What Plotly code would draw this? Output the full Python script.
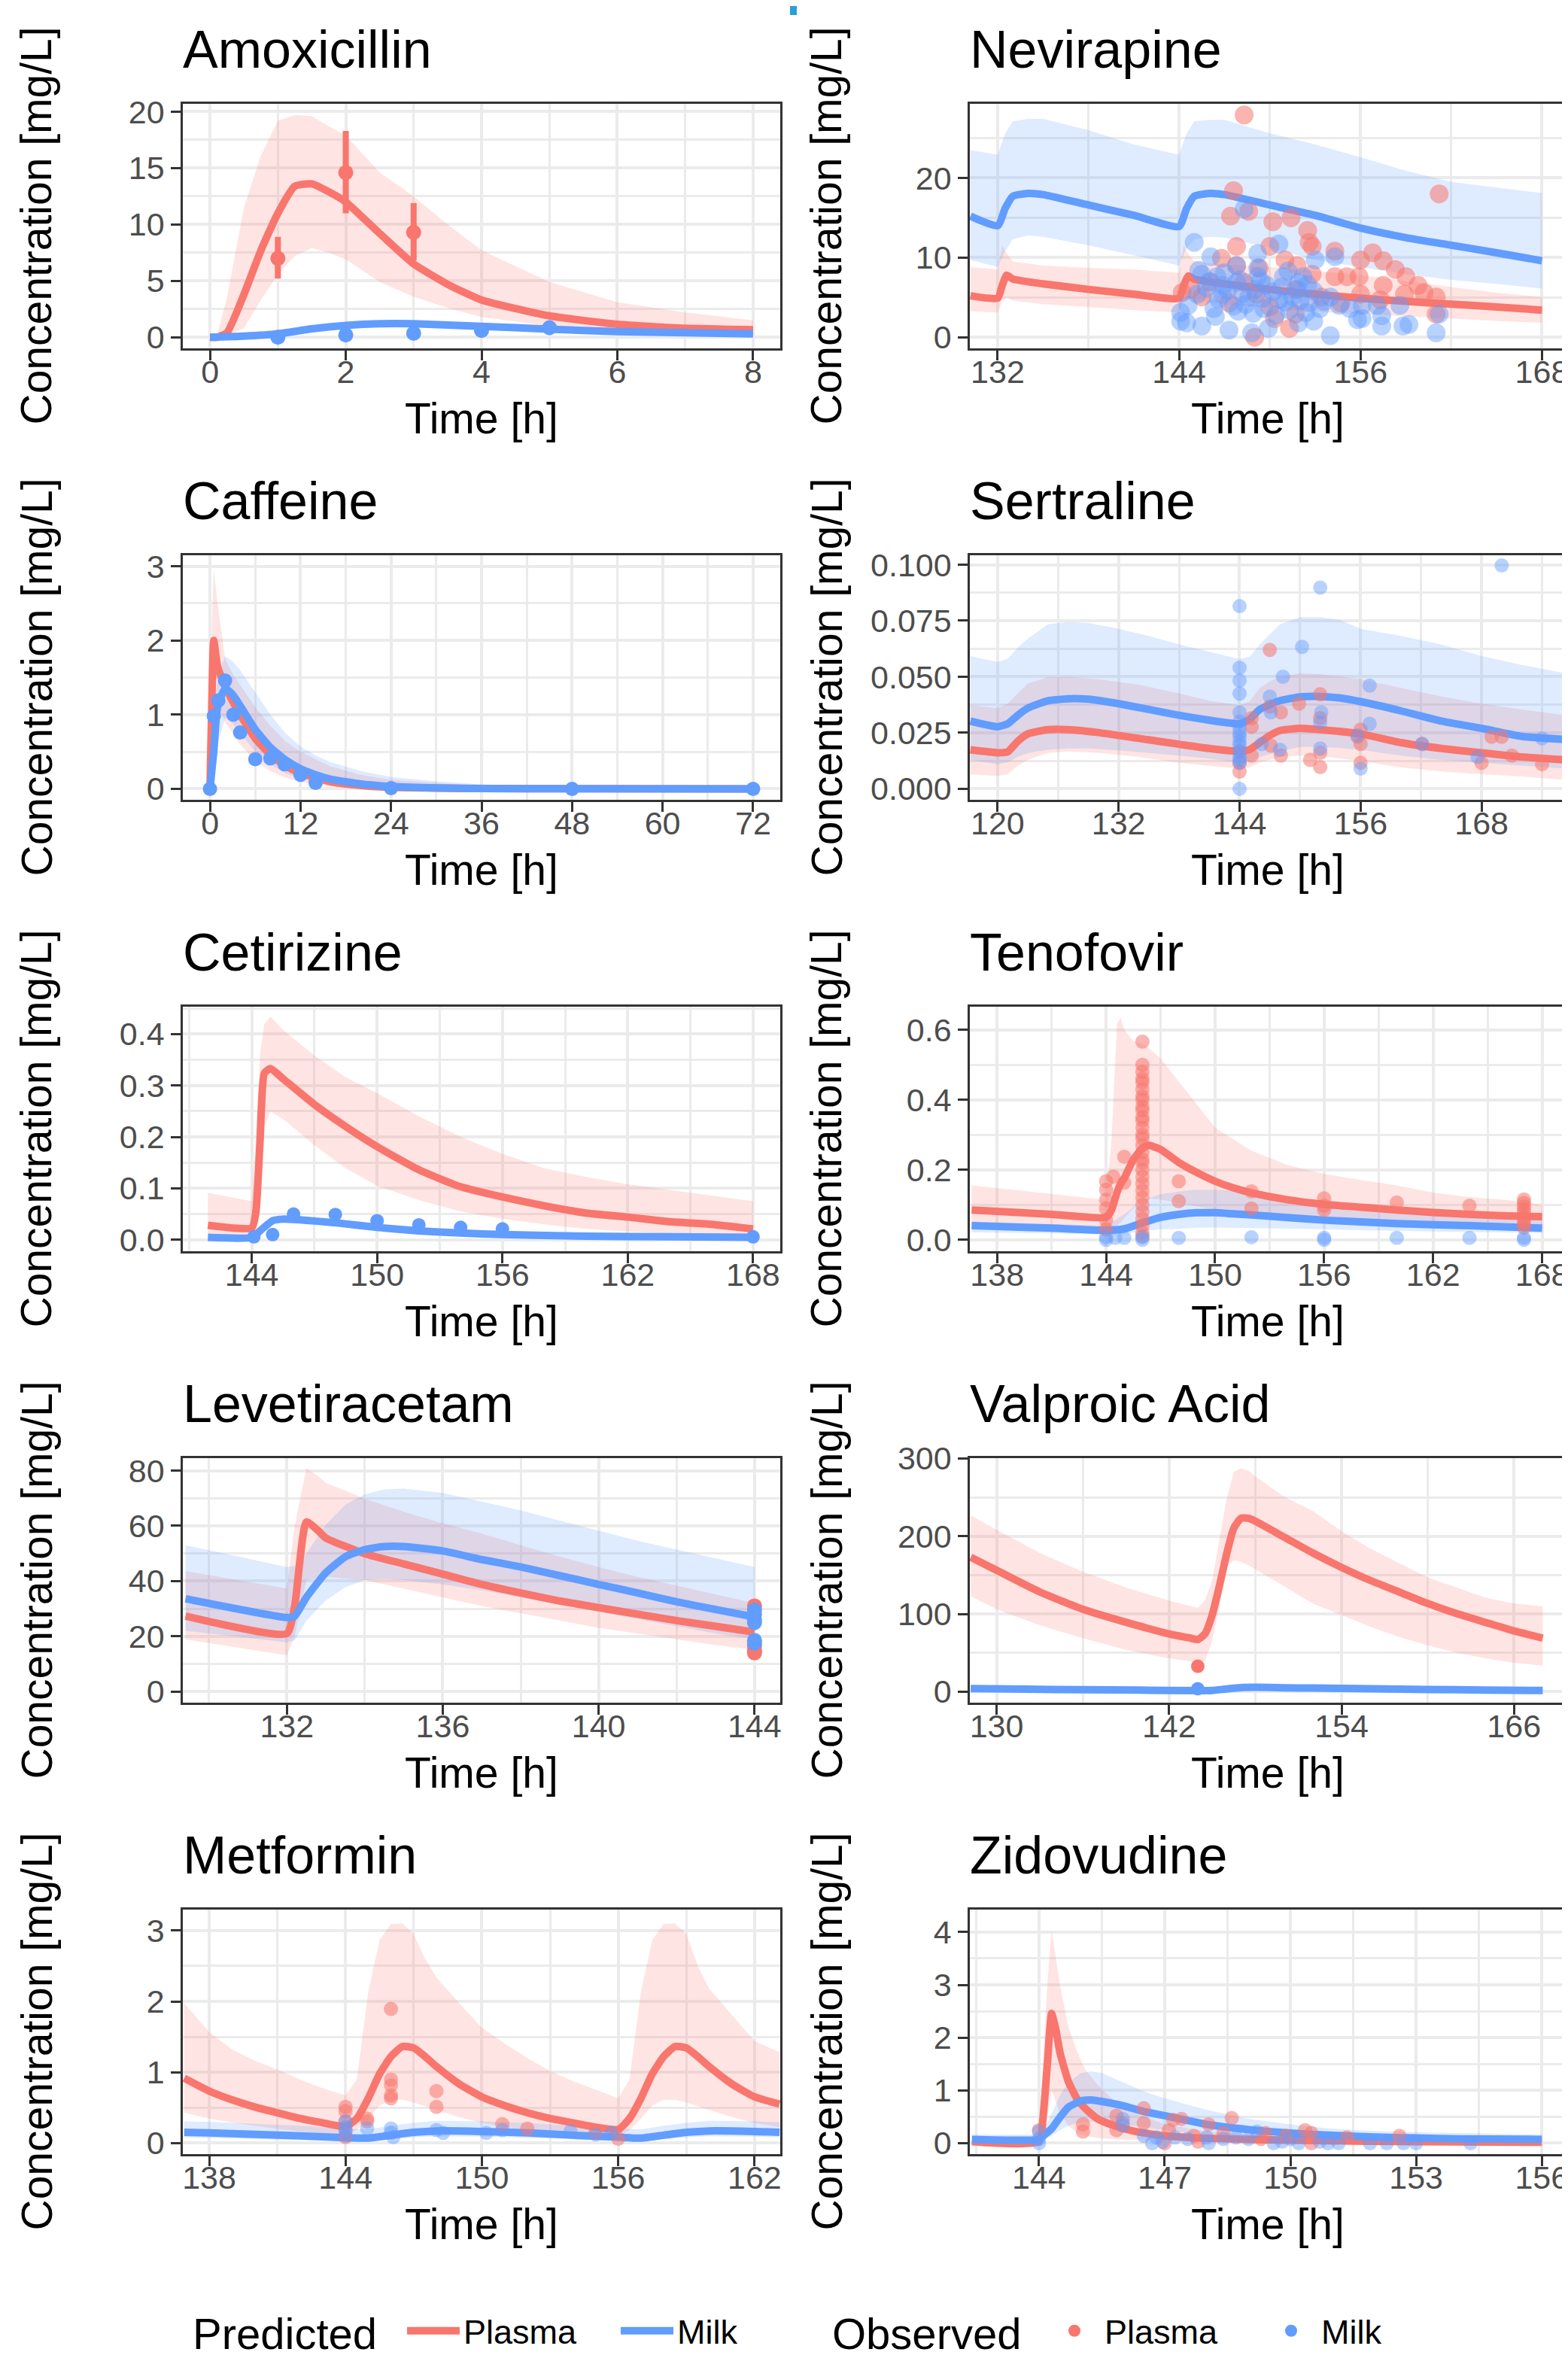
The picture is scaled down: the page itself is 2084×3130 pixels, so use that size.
import plotly.graph_objects as go
from plotly.subplots import make_subplots

RED = "#F8766D"
BLUE = "#619CFF"
RED_BAND = "rgba(248,118,109,0.2)"
BLUE_BAND = "rgba(97,156,255,0.2)"
RED_PT = "rgba(248,118,109,0.55)"
BLUE_PT = "rgba(97,156,255,0.45)"
FONT = "Liberation Sans, Arial, sans-serif"

# ---------------- Amoxicillin ----------------
amox_pl_t = [0, 0.1, 0.25, 0.5, 0.75, 1.0, 1.25, 1.5, 1.75, 2.0, 2.5, 3.0, 3.5, 4.0, 5.0, 6.0, 7.0, 8.0]
amox_pl_med = [0, 0, 0.4, 3.8, 7.7, 11.0, 13.4, 13.6, 12.9, 12.0, 9.2, 6.5, 4.7, 3.3, 1.9, 1.15, 0.8, 0.66]
amox_pl_hi = [0, 0.1, 3.5, 11.5, 16.1, 19.2, 19.7, 19.6, 18.7, 17.9, 14.6, 12.5, 10.0, 7.7, 4.9, 3.1, 2.2, 1.5]
amox_pl_lo = [0, 0, 0.1, 0.8, 3.3, 5.6, 7.2, 7.9, 7.5, 6.9, 4.9, 3.6, 2.6, 1.8, 1.0, 0.64, 0.48, 0.38]
amox_mk_t = [0, 0.5, 1, 1.5, 2, 2.5, 3, 4, 5, 6, 7, 8]
amox_mk_med = [0, 0.1, 0.3, 0.75, 1.05, 1.2, 1.2, 0.97, 0.72, 0.5, 0.4, 0.3]
amox_mk_hi = [0, 0.2, 0.45, 0.9, 1.2, 1.35, 1.35, 1.12, 0.86, 0.63, 0.5, 0.4]
amox_mk_lo = [0, 0.03, 0.18, 0.6, 0.9, 1.05, 1.05, 0.82, 0.6, 0.4, 0.3, 0.22]
amox_obs_pl_t = [1, 2, 3]
amox_obs_pl = [7.0, 14.6, 9.3]
amox_obs_pl_lo = [5.2, 11.0, 6.8]
amox_obs_pl_hi = [8.9, 18.3, 11.9]
amox_obs_mk_t = [1, 2, 3, 4, 5]
amox_obs_mk = [0.0, 0.2, 0.35, 0.6, 0.85]
amox_obs_mk_lo = [-0.15, 0.05, 0.2, 0.45, 0.35]
amox_obs_mk_hi = [0.15, 0.35, 0.5, 0.75, 1.3]

# ---------------- Nevirapine ----------------
nevi_pl_t = [130.2, 132, 132.3, 132.6, 133, 135, 138, 141, 144, 144.3, 144.6, 145, 147, 150, 153, 156, 159, 162, 165, 168]
nevi_pl_med = [5.2, 4.9, 6.5, 7.8, 7.3, 6.7, 6.0, 5.4, 4.9, 6.5, 7.7, 7.3, 6.7, 6.0, 5.4, 4.9, 4.5, 4.15, 3.8, 3.4]
nevi_pl_hi = [8.8, 8.5, 11.5, 10.5, 9.5, 9.0, 8.7, 8.5, 8.1, 11.5, 10.5, 9.5, 9.1, 8.8, 8.3, 7.8, 7.0, 6.3, 5.6, 5.05]
nevi_pl_lo = [3.25, 3.1, 4.5, 5.0, 4.6, 4.15, 3.8, 3.4, 3.1, 4.5, 4.9, 4.5, 4.1, 3.6, 3.2, 2.9, 2.6, 2.35, 2.05, 1.8]
nevi_mk_t = [130.2, 132, 132.5, 133, 134, 135, 138, 141, 144, 144.5, 145, 146, 147, 150, 153, 156, 159, 162, 165, 168]
nevi_mk_med = [15.2, 14.0, 16.2, 17.7, 18.05, 17.9, 16.6, 15.3, 13.9, 16.2, 17.7, 18.05, 17.9, 16.6, 15.3, 13.7, 12.5, 11.55, 10.6, 9.6]
nevi_mk_hi = [23.5, 22.9, 25.6, 27.1, 27.4, 27.4, 26.0, 24.2, 22.9, 25.6, 27.1, 27.3, 27.3, 25.6, 24.2, 22.6, 20.9, 19.5, 18.8, 18.1]
nevi_mk_lo = [9.7, 8.8, 10.8, 12.3, 12.8, 12.6, 11.55, 10.3, 9.0, 11.2, 12.3, 12.6, 12.5, 11.2, 9.7, 8.8, 7.9, 7.2, 6.7, 6.1]
nevi_obs_pl_t = [148.3, 147.6, 161.2, 148.6, 147.4, 150.2, 151.4, 152.5, 152.6, 152.8, 154.3, 150.0, 147.8, 156.8, 156.0,
                 157.5, 158.3, 159.0, 159.8, 157.5, 155.9, 155.1, 154.3, 160.2, 161.0, 158.9, 156.0, 161.0, 146.8, 147.8,
                 149.3, 151.0, 151.8, 152.8, 146.1, 144.8, 144.2, 145.5, 147.3, 150.0, 151.7, 151.3, 149.0, 150.3, 153.4,
                 154.7, 157.3, 148.3, 151.7, 149.1]
nevi_obs_pl = [27.9, 18.4, 18.0, 15.8, 15.2, 14.5, 15.0, 13.4, 11.9, 11.4, 10.8, 11.4, 11.4, 10.6, 9.7,
               9.6, 8.5, 7.6, 6.5, 6.5, 7.6, 7.6, 7.6, 5.6, 5.05, 5.4, 5.4, 2.9, 9.9, 9.0,
               8.7, 9.7, 9.0, 7.9, 6.9, 6.1, 5.6, 5.05, 4.3, 3.8, 2.9, 1.1, 0.0, 2.35, 5.05,
               4.3, 4.7, 6.9, 6.0, 5.4]
nevi_obs_mk_t = [148.3, 145.0, 150.6, 149.2, 146.1, 153.0, 154.3, 147.8, 149.2, 151.2, 152.2, 146.5, 147.8, 149.8, 151.9,
                 152.9, 145.2, 146.9, 148.6, 150.6, 152.6, 144.6, 146.3, 147.9, 149.6, 151.3, 153.3, 154.6, 155.3, 156.1,
                 157.1, 158.6, 161.2, 144.1, 144.1, 144.5, 145.5, 147.3, 148.8, 149.9, 151.9, 152.9, 154.0, 155.8, 157.4,
                 158.8, 159.2, 161.0, 157.4, 156.1, 146.9, 149.2, 150.9, 145.5, 154.0,
                 145.8, 146.6, 147.2, 148.0, 148.4, 149.0, 149.5, 150.2, 150.8, 151.5, 152.0, 152.5, 145.3, 146.0, 147.0,
                 147.6, 148.2, 149.4, 150.4, 151.0, 151.8, 152.4, 153.6, 146.4, 148.9]
nevi_obs_mk = [16.1, 11.9, 11.7, 10.5, 10.1, 9.7, 10.1, 9.0, 8.7, 8.3, 7.6, 7.6, 6.9, 6.5, 6.9,
               5.8, 5.4, 5.4, 5.05, 4.7, 4.3, 4.0, 3.6, 3.25, 3.6, 3.4, 3.6, 4.0, 3.6, 4.0,
               4.0, 4.0, 2.9, 3.1, 2.0, 1.8, 1.4, 0.9, 0.55, 1.1, 1.8, 2.0, 0.2, 2.2, 1.4,
               1.4, 1.6, 0.55, 2.7, 2.35, 6.5, 7.6, 7.6, 7.9, 5.05,
               6.2, 4.8, 5.9, 7.2, 4.1, 6.0, 4.9, 5.7, 6.3, 5.1, 4.6, 6.6, 8.4, 7.0, 8.1,
               3.9, 5.5, 7.1, 2.8, 4.4, 6.0, 3.1, 4.5, 2.6, 3.0]

# ---------------- Caffeine ----------------
caff_pl_t = [0, 0.25, 0.5, 1, 2, 3, 4, 6, 8, 10, 12, 16, 20, 24, 36, 48, 72]
caff_pl_med = [0, 1.2, 2.0, 1.65, 1.38, 1.18, 1.0, 0.68, 0.46, 0.31, 0.21, 0.095, 0.045, 0.02, 0.003, 0.0005, 0]
caff_pl_hi = [0, 2.2, 2.97, 2.5, 1.75, 1.55, 1.4, 1.1, 0.85, 0.64, 0.5, 0.3, 0.19, 0.12, 0.04, 0.01, 0.001]
caff_pl_lo = [0, 0.6, 1.3, 1.1, 0.9, 0.75, 0.6, 0.38, 0.24, 0.15, 0.09, 0.03, 0.012, 0.005, 0, 0, 0]
caff_mk_t = [0, 0.5, 1, 2, 3, 4, 6, 8, 10, 12, 14, 16, 20, 24, 30, 36, 48, 72]
caff_mk_med = [0, 0.5, 1.1, 1.35, 1.27, 1.12, 0.8, 0.56, 0.39, 0.27, 0.19, 0.13, 0.065, 0.032, 0.012, 0.005, 0.001, 0]
caff_mk_hi = [0, 0.9, 1.5, 1.79, 1.72, 1.6, 1.3, 1.0, 0.75, 0.57, 0.45, 0.36, 0.24, 0.16, 0.1, 0.06, 0.015, 0]
caff_mk_lo = [0, 0.2, 0.6, 0.95, 0.88, 0.75, 0.5, 0.33, 0.21, 0.13, 0.085, 0.055, 0.022, 0.01, 0.003, 0.001, 0, 0]
caff_obs_mk_t = [0, 0.5, 1.1, 2.0, 3.1, 4.0, 6.0, 8.0, 9.9, 12, 14, 24, 48, 72]
caff_obs_mk = [0, 0.98, 1.19, 1.46, 1.0, 0.76, 0.4, 0.41, 0.33, 0.19, 0.08, 0.01, 0, 0]

# ---------------- Sertraline ----------------
sert_pl_t = [117.3, 120, 121, 122, 123, 125, 127, 130, 134, 138, 141, 144, 145, 146, 147, 148, 150, 152, 156, 160, 164, 168, 172, 176.4]
sert_pl_med = [0.0174, 0.0161, 0.0165, 0.0212, 0.0245, 0.0264, 0.0264, 0.0251, 0.0225, 0.0199, 0.018, 0.0167, 0.0175, 0.0206,
               0.0238, 0.026, 0.027, 0.0264, 0.0245, 0.0206, 0.018, 0.0161, 0.0142, 0.0129]
sert_pl_hi = [0.0373, 0.036, 0.038, 0.0425, 0.047, 0.0498, 0.05, 0.0489, 0.0465, 0.0425, 0.0393, 0.0373, 0.039, 0.045,
              0.048, 0.05, 0.0515, 0.0512, 0.0489, 0.045, 0.0412, 0.038, 0.0354, 0.0328]
sert_pl_lo = [0.0064, 0.0058, 0.0065, 0.0103, 0.013, 0.016, 0.0167, 0.0161, 0.0142, 0.0116, 0.0103, 0.009, 0.0095, 0.0118,
              0.013, 0.0142, 0.0148, 0.0146, 0.0125, 0.0095, 0.0078, 0.0065, 0.0055, 0.0039]
sert_mk_t = [117.3, 120, 121, 122, 123, 125, 127, 129, 132, 135, 138, 141, 144, 145, 146, 148, 150, 152, 154, 156, 160, 164, 168, 172, 176.4]
sert_mk_med = [0.0302, 0.0277, 0.029, 0.0328, 0.036, 0.0393, 0.0402, 0.040, 0.038, 0.0354, 0.0328, 0.0306, 0.029, 0.031,
               0.0354, 0.0393, 0.041, 0.0412, 0.0405, 0.0389, 0.0348, 0.0302, 0.027, 0.0234, 0.022]
sert_mk_hi = [0.0592, 0.0566, 0.058, 0.063, 0.0669, 0.0734, 0.0744, 0.074, 0.0714, 0.0682, 0.0644, 0.0611, 0.0579, 0.059,
              0.0644, 0.0734, 0.0766, 0.0766, 0.0753, 0.0714, 0.0682, 0.0644, 0.0592, 0.0553, 0.0515]
sert_mk_lo = [0.0129, 0.011, 0.0118, 0.0142, 0.016, 0.0174, 0.018, 0.018, 0.0172, 0.016, 0.0148, 0.0135, 0.0116, 0.012,
              0.0142, 0.0167, 0.0187, 0.0188, 0.0182, 0.0174, 0.0148, 0.0129, 0.0116, 0.0103, 0.009]
sert_obs_pl_t = [147, 152, 149.9, 147, 148.1, 145.2, 145.2, 152, 156, 156, 155.7, 147.1, 148.1, 145.2, 144,
                 144, 144, 151, 152, 152, 156, 162.1, 169, 170, 168, 171, 174]
sert_obs_pl = [0.062, 0.0422, 0.038, 0.0367, 0.0341, 0.0315, 0.0277, 0.0315, 0.0264, 0.02, 0.0232, 0.0193, 0.0148, 0.0148, 0.0077,
               0.0116, 0.0167, 0.0129, 0.0097, 0.0161, 0.0116, 0.02, 0.0232, 0.0232, 0.0116, 0.0148, 0.011]
sert_obs_mk_t = [144, 144, 144, 144, 144, 144, 144, 144, 144, 144, 144, 144, 144, 144, 144, 144,
                 152, 170, 150.2, 148.3, 147, 147.1, 152, 152.1, 156.9, 156.9, 155.7, 156, 162.1, 167.6, 174, 148, 146.2, 152]
sert_obs_mk = [0.0815, 0.054, 0.0483, 0.0425, 0.0341, 0.027, 0.0232, 0.0193, 0.0142, 0.0116, 0.0, 0.025, 0.021, 0.017, 0.013, 0.030,
               0.0898, 0.0997, 0.0633, 0.05, 0.0412, 0.0341, 0.0296, 0.0341, 0.046, 0.029, 0.0238, 0.009, 0.02, 0.0142, 0.0225,
               0.0174, 0.02, 0.018]

# ---------------- Cetirizine ----------------
ceti_pl_t = [141.9, 144, 144.2, 144.4, 144.6, 144.9, 145.5, 147, 148.5, 150, 152, 154, 156, 158, 160, 162, 164, 166, 168]
ceti_pl_med = [0.028, 0.023, 0.055, 0.195, 0.324, 0.333, 0.313, 0.263, 0.22, 0.181, 0.136, 0.103, 0.083, 0.066, 0.052, 0.044, 0.035, 0.03, 0.021]
ceti_pl_hi = [0.091, 0.075, 0.2, 0.36, 0.42, 0.434, 0.408, 0.358, 0.316, 0.285, 0.24, 0.2, 0.167, 0.139, 0.122, 0.108, 0.097, 0.086, 0.075]
ceti_pl_lo = [0.01, 0.007, 0.02, 0.12, 0.22, 0.25, 0.235, 0.184, 0.139, 0.105, 0.077, 0.055, 0.041, 0.03, 0.021, 0.016, 0.012, 0.009, 0.007]
ceti_mk_t = [141.9, 144, 144.5, 145, 145.5, 146.5, 148, 150, 152, 154, 156, 160, 164, 168]
ceti_mk_med = [0.0045, 0.0045, 0.021, 0.037, 0.04, 0.038, 0.033, 0.024, 0.017, 0.013, 0.01, 0.007, 0.0056, 0.0045]
ceti_mk_hi = [0.0075, 0.0075, 0.025, 0.041, 0.044, 0.042, 0.037, 0.028, 0.02, 0.016, 0.013, 0.01, 0.0085, 0.0075]
ceti_mk_lo = [0.0015, 0.0015, 0.017, 0.033, 0.036, 0.034, 0.029, 0.02, 0.014, 0.01, 0.007, 0.004, 0.0027, 0.0015]
ceti_obs_mk_t = [144.1, 145.0, 146.0, 148.0, 150.0, 152.0, 154.0, 156.0, 168.0]
ceti_obs_mk = [0.0056, 0.01, 0.05, 0.049, 0.037, 0.029, 0.024, 0.021, 0.0056]

# ---------------- Tenofovir ----------------
teno_pl_t = [136.6, 138, 141, 144, 144.3, 144.6, 144.8, 145, 145.5, 146, 146.3, 147, 148, 149, 150, 151, 152, 154, 156, 158, 160, 162, 164, 166, 168]
teno_pl_med = [0.085, 0.081, 0.0725, 0.064, 0.085, 0.135, 0.16, 0.176, 0.229, 0.262, 0.27, 0.258, 0.221, 0.192, 0.167, 0.148, 0.134,
               0.114, 0.101, 0.093, 0.085, 0.078, 0.0725, 0.068, 0.066]
teno_pl_hi = [0.155, 0.147, 0.13, 0.114, 0.287, 0.617, 0.635, 0.6, 0.567, 0.559, 0.55, 0.518, 0.452, 0.386, 0.32, 0.287, 0.254,
              0.213, 0.188, 0.171, 0.155, 0.134, 0.122, 0.114, 0.101]
teno_pl_lo = [0.031, 0.03, 0.025, 0.019, 0.025, 0.04, 0.05, 0.06, 0.09, 0.11, 0.118, 0.115, 0.105, 0.095, 0.085, 0.077, 0.07,
              0.06, 0.053, 0.048, 0.044, 0.04, 0.037, 0.034, 0.032]
teno_mk_t = [136.6, 138, 141, 144, 145, 146, 147, 148, 149, 150, 151, 152, 154, 156, 160, 164, 168]
teno_mk_med = [0.04, 0.038, 0.033, 0.027, 0.031, 0.048, 0.064, 0.0725, 0.077, 0.077, 0.074, 0.071, 0.063, 0.056, 0.046, 0.04, 0.033]
teno_mk_hi = [0.052, 0.049, 0.045, 0.04, 0.0725, 0.114, 0.13, 0.138, 0.143, 0.143, 0.14, 0.134, 0.122, 0.11, 0.093, 0.081, 0.0725]
teno_mk_lo = [0.021, 0.02, 0.018, 0.015, 0.016, 0.025, 0.03, 0.031, 0.034, 0.035, 0.035, 0.034, 0.032, 0.03, 0.025, 0.022, 0.019]
teno_obs_pl_t = [144, 144, 144, 144, 144, 144, 144.4, 145, 145,
                 146, 146, 146, 146, 146, 146, 146, 146, 146, 146, 146, 146, 146, 146, 146,
                 146, 146, 146, 146, 146, 146, 146, 146, 146, 146, 146, 146, 146, 146, 146,
                 148, 148, 152, 152, 156, 156, 156, 160, 164,
                 167, 167, 167, 167, 167, 167, 167, 167, 167]
teno_obs_pl = [0.167, 0.143, 0.114, 0.089, 0.056, 0.03, 0.18, 0.237, 0.163,
               0.566, 0.50, 0.48, 0.46, 0.45, 0.43, 0.41, 0.40, 0.38, 0.37, 0.35, 0.34, 0.32, 0.30, 0.29,
               0.27, 0.25, 0.23, 0.22, 0.20, 0.18, 0.16, 0.14, 0.12, 0.10, 0.08, 0.06, 0.04, 0.02, 0.01,
               0.167, 0.11, 0.138, 0.089, 0.118, 0.097, 0.085, 0.106, 0.097,
               0.115, 0.105, 0.095, 0.085, 0.075, 0.065, 0.055, 0.045, 0.035]
teno_obs_mk_t = [144, 144, 144.5, 145, 146, 146, 148, 152, 156, 156, 160, 164, 167, 167]
teno_obs_mk = [0.007, 0, 0.005, 0.005, 0.007, 0, 0.005, 0.007, 0.005, 0, 0.005, 0.005, 0.005, 0]

# ---------------- Levetiracetam ----------------
leve_pl_t = [129.4, 132, 132.2, 132.5, 132.8, 133, 134, 135, 136, 137, 138, 139, 140, 141, 142, 143, 144]
leve_pl_med = [27.3, 21.0, 31.0, 61.4, 58.3, 55.6, 49.9, 46.2, 42.5, 38.8, 35.7, 32.8, 30.4, 28.0, 25.7, 23.6, 21.5]
leve_pl_hi = [43.6, 37.3, 60.0, 80.8, 78.0, 75.6, 69.8, 65.1, 60.9, 57.2, 53.0, 48.8, 45.1, 41.5, 38.3, 35.2, 32.0]
leve_pl_lo = [18.9, 13.1, 20.0, 40.4, 41.2, 41.5, 40.4, 37.3, 34.1, 31.0, 28.3, 25.7, 23.1, 21.0, 18.9, 16.8, 15.2]
leve_mk_t = [129.4, 132, 132.2, 132.5, 133, 133.5, 134, 134.5, 135, 136, 137, 138, 139, 140, 141, 142, 143, 144]
leve_mk_med = [33.6, 26.8, 27.3, 34.1, 43.0, 48.8, 51.4, 52.5, 52.5, 50.9, 47.8, 45.1, 42.0, 38.8, 35.7, 32.5, 29.7, 27.0]
leve_mk_hi = [53.0, 45.1, 45.5, 50.0, 60.4, 67.7, 71.4, 73.2, 73.5, 71.9, 68.8, 65.6, 61.9, 58.3, 54.6, 51.4, 48.3, 45.1]
leve_mk_lo = [22.0, 17.8, 18.5, 25.7, 33.0, 37.8, 40.4, 40.8, 40.4, 38.8, 36.7, 34.1, 31.5, 28.9, 26.2, 23.6, 21.0, 18.9]
leve_obs_pl_t = [144, 144, 144, 144]
leve_obs_pl = [31.0, 16.5, 15.0, 14.0]
leve_obs_mk_t = [144, 144, 144, 144, 144, 144]
leve_obs_mk = [29.5, 28.0, 26.0, 25.0, 18.5, 17.5]

# ---------------- Valproic Acid ----------------
valp_pl_t = [128.2, 130, 133, 136, 139, 142, 143.5, 144, 144.5, 145, 145.5, 146, 146.5, 147, 147.5, 148, 150, 152, 154, 156,
             158, 160, 162, 164, 166, 168]
valp_pl_med = [172.9, 156.1, 128.3, 106, 89.2, 74.3, 68.8, 67, 74.3, 98.5, 135.7, 176.6, 210, 223, 223, 219.3, 198.9, 178.4,
               159.9, 143.1, 128.3, 113.4, 100.4, 89.2, 78.1, 68.8]
valp_pl_hi = [226.8, 208.2, 178.4, 154.3, 133.8, 117.1, 110, 107.8, 117.1, 143.1, 195.2, 247.2, 282.5, 287.4, 284.4, 276.9,
              250.9, 232.3, 206.3, 184, 165.4, 146.8, 133.8, 120.8, 113.4, 109.7]
valp_pl_lo = [122.7, 106, 85.5, 68.8, 53.9, 42.8, 39, 37.2, 40, 65, 110, 160, 169.1, 167.3, 163, 158, 135.7, 113.4, 98.5,
              83.6, 70.6, 59.5, 50.2, 42.8, 37.2, 33.5]
valp_mk_t = [128.2, 132, 136, 140, 144, 145, 146, 147, 148, 150, 152, 156, 160, 164, 168]
valp_mk_med = [4.0, 3.2, 2.5, 1.9, 1.2, 1.5, 3.5, 5.2, 5.6, 5.0, 4.6, 3.6, 2.8, 2.1, 1.5]
valp_mk_hi = [5.5, 4.7, 4.0, 3.4, 2.7, 3.0, 5.0, 6.9, 7.3, 6.6, 6.1, 5.1, 4.3, 3.6, 3.0]
valp_mk_lo = [2.6, 1.9, 1.3, 0.8, 0.3, 0.5, 2.0, 3.6, 4.0, 3.5, 3.1, 2.3, 1.6, 1.0, 0.5]
valp_obs_pl_t = [144]
valp_obs_pl = [32.7]
valp_obs_mk_t = [144]
valp_obs_mk = [3.7]

# ---------------- Metformin ----------------
metf_pl_t = [136.9, 138, 139, 140, 141, 142, 143, 144, 144.5, 145, 145.5, 146, 146.5, 147, 147.5, 148, 149, 150, 151, 152,
             153, 154, 155, 156, 156.5, 157, 157.5, 158, 158.5, 159, 159.5, 160, 161, 162, 163.1]
metf_pl_med = [0.916, 0.733, 0.61, 0.509, 0.427, 0.346, 0.285, 0.232, 0.346, 0.631, 0.977, 1.221, 1.363, 1.343, 1.221, 1.079,
               0.834, 0.651, 0.529, 0.427, 0.346, 0.285, 0.224, 0.191, 0.346, 0.631, 0.977, 1.221, 1.363, 1.343, 1.221,
               1.079, 0.834, 0.651, 0.55]
metf_pl_hi = [1.974, 1.567, 1.323, 1.16, 1.038, 0.895, 0.773, 0.672, 0.9, 2.137, 2.869, 3.093, 3.1, 2.95, 2.6, 2.34, 1.974,
              1.628, 1.404, 1.2, 1.017, 0.875, 0.753, 0.631, 0.9, 2.137, 2.869, 3.093, 3.1, 2.95, 2.5, 2.18, 1.81, 1.44, 1.28]
metf_pl_lo = [0.427, 0.346, 0.29, 0.244, 0.2, 0.163, 0.13, 0.102, 0.183, 0.346, 0.529, 0.61, 0.61, 0.57, 0.52, 0.468, 0.366,
              0.285, 0.224, 0.183, 0.15, 0.122, 0.1, 0.081, 0.183, 0.346, 0.529, 0.61, 0.61, 0.57, 0.52, 0.468, 0.366,
              0.285, 0.224]
metf_mk_t = [136.9, 138, 140, 142, 144, 145, 146, 147, 148, 150, 152, 154, 156, 157, 158, 159, 160, 162, 163.1]
metf_mk_med = [0.151, 0.142, 0.122, 0.102, 0.073, 0.069, 0.11, 0.151, 0.171, 0.163, 0.142, 0.11, 0.081, 0.069, 0.11, 0.151,
               0.171, 0.163, 0.151]
metf_mk_hi = [0.305, 0.297, 0.27, 0.244, 0.204, 0.191, 0.244, 0.285, 0.313, 0.305, 0.285, 0.244, 0.204, 0.191, 0.244, 0.285,
              0.313, 0.305, 0.295]
metf_mk_lo = [0.08, 0.075, 0.06, 0.045, 0.03, 0.025, 0.05, 0.08, 0.095, 0.09, 0.075, 0.055, 0.035, 0.025, 0.05, 0.08, 0.095,
              0.09, 0.08]
metf_obs_pl_t = [144, 144, 144, 144, 144, 144.95, 144.95, 146, 146, 146, 146, 146, 148, 148, 150.9, 152, 155, 156]
metf_obs_pl = [0.509, 0.448, 0.305, 0.081, 0.183, 0.346, 0.305, 1.893, 0.895, 0.814, 0.672, 0.631, 0.733, 0.509, 0.265,
               0.204, 0.142, 0.061]
metf_obs_mk_t = [144, 144, 144, 144, 144.95, 146, 146, 146.1, 148, 148.3, 150.2, 150.9, 153.9, 155, 155.7]
metf_obs_mk = [0.305, 0.224, 0.163, 0.102, 0.204, 0.204, 0.142, 0.081, 0.183, 0.142, 0.142, 0.183, 0.163, 0.122, 0.142]

# ---------------- Zidovudine ----------------
zido_pl_t = [142.4, 144, 144.1, 144.2, 144.3, 144.4, 144.5, 144.7, 144.9, 145.1, 145.4, 145.8, 146.3, 147, 148, 150, 153, 156]
zido_pl_med = [0.027, 0.027, 0.52, 1.5, 2.46, 2.16, 1.72, 1.17, 0.85, 0.66, 0.46, 0.33, 0.22, 0.137, 0.093, 0.055, 0.027, 0.016]
zido_pl_hi = [0.05, 0.05, 1.61, 3.0, 4.04, 3.5, 3.0, 2.2, 1.75, 1.4, 1.1, 0.8, 0.57, 0.355, 0.22, 0.11, 0.055, 0.04]
zido_pl_lo = [0.01, 0.01, 0.1, 0.5, 1.01, 0.8, 0.57, 0.33, 0.2, 0.14, 0.1, 0.075, 0.06, 0.044, 0.033, 0.022, 0.012, 0.01]
zido_mk_t = [142.4, 144, 144.1, 144.3, 144.5, 144.7, 145, 145.25, 145.5, 146, 146.5, 147, 148, 149, 150, 151, 152, 153, 154, 156]
zido_mk_med = [0.071, 0.071, 0.137, 0.273, 0.49, 0.68, 0.8, 0.82, 0.79, 0.71, 0.6, 0.52, 0.355, 0.257, 0.19, 0.148, 0.115,
               0.098, 0.082, 0.071]
zido_mk_hi = [0.164, 0.164, 0.25, 0.55, 0.9, 1.15, 1.33, 1.36, 1.33, 1.15, 0.98, 0.85, 0.63, 0.46, 0.355, 0.273, 0.23, 0.205,
              0.19, 0.164]
zido_mk_lo = [0.027, 0.027, 0.06, 0.137, 0.25, 0.33, 0.4, 0.41, 0.41, 0.355, 0.3, 0.246, 0.164, 0.12, 0.093, 0.075, 0.066,
              0.058, 0.05, 0.044]
zido_obs_pl_t = [145.05, 145.05, 145.85, 145.85, 146, 146.5, 146.5, 147.2, 147.4, 147, 148.05, 148.6, 148.4, 147.8, 149.4,
                 149.3, 150.35, 150.5, 149.9, 151.35, 152.6, 150.5, 147.1, 147.7, 144]
zido_obs_pl = [0.355, 0.22, 0.52, 0.246, 0.38, 0.66, 0.38, 0.44, 0.46, 0.0, 0.355, 0.475, 0.19, 0.027, 0.19,
               0.082, 0.246, 0.19, 0.137, 0.11, 0.137, 0.0, 0.246, 0.137, 0.246]
zido_obs_mk_t = [144, 144, 144, 146, 146, 146.5, 146.7, 146.8, 146.95, 147.25, 147.55, 148, 148.05, 148.4, 148.7,
                 149, 149.6, 149.8, 150, 150.2, 150.7, 150.9, 151.15, 151.9, 152.3, 152.7, 153, 154.3, 149.2]
zido_obs_mk = [0.22, 0.0, 0.082, 0.46, 0.33, 0.137, 0.0, 0.11, 0.027, 0.11, 0.082, 0.11, 0.0, 0.082, 0.11,
               0.082, 0.0, 0.027, 0.082, 0.0, 0.027, 0.0, 0.0, 0.0, 0.0, 0.0, 0.0, 0.0, 0.22]

# ---------------- panels / axes ----------------
panels = [
    dict(title="Amoxicillin", xr=[-0.4, 8.4], xt=[0, 2, 4, 6, 8], xm=[1, 3, 5, 7],
         yr=[-0.985, 20.7], yt=[0, 5, 10, 15, 20], ym=[2.5, 7.5, 12.5, 17.5], yf=""),
    dict(title="Nevirapine", xr=[130.16, 169.57], xt=[132, 144, 156, 168], xm=[138, 150, 162],
         yr=[-1.4, 29.3], yt=[0, 10, 20], ym=[5, 15, 25], yf=""),
    dict(title="Caffeine", xr=[-3.6, 75.6], xt=[0, 12, 24, 36, 48, 60, 72], xm=[6, 18, 30, 42, 54, 66],
         yr=[-0.148, 3.148], yt=[0, 1, 2, 3], ym=[0.5, 1.5, 2.5], yf=""),
    dict(title="Sertraline", xr=[117.25, 176.35], xt=[120, 132, 144, 156, 168], xm=[126, 138, 150, 162, 174],
         yr=[-0.0049, 0.1042], yt=[0, 0.025, 0.05, 0.075, 0.1], ym=[0.0125, 0.0375, 0.0625, 0.0875], yf=".3f"),
    dict(title="Cetirizine", xr=[140.7, 169.3], xt=[144, 150, 156, 162, 168], xm=[141, 147, 153, 159, 165],
         yr=[-0.0224, 0.4533], yt=[0, 0.1, 0.2, 0.3, 0.4], ym=[0.05, 0.15, 0.25, 0.35, 0.45], yf=".1f"),
    dict(title="Tenofovir", xr=[136.5, 169.3], xt=[138, 144, 150, 156, 162, 168], xm=[141, 147, 153, 159, 165],
         yr=[-0.033, 0.666], yt=[0, 0.2, 0.4, 0.6], ym=[0.1, 0.3, 0.5], yf=".1f"),
    dict(title="Levetiracetam", xr=[129.33, 144.66], xt=[132, 136, 140, 144], xm=[130, 134, 138, 142],
         yr=[-4.03, 84.5], yt=[0, 20, 40, 60, 80], ym=[10, 30, 50, 70], yf=""),
    dict(title="Valproic Acid", xr=[128.14, 169.6], xt=[130, 142, 154, 166], xm=[136, 148, 160],
         yr=[-14.2, 300.4], yt=[0, 100, 200, 300], ym=[50, 150, 250], yf=""),
    dict(title="Metformin", xr=[136.84, 163.13], xt=[138, 144, 150, 156, 162], xm=[141, 147, 153, 159],
         yr=[-0.157, 3.297], yt=[0, 1, 2, 3], ym=[0.5, 1.5, 2.5], yf=""),
    dict(title="Zidovudine", xr=[142.35, 156.57], xt=[144, 147, 150, 153, 156], xm=[142.5, 145.5, 148.5, 151.5, 154.5],
         yr=[-0.208, 4.426], yt=[0, 1, 2, 3, 4], ym=[0.5, 1.5, 2.5, 3.5], yf=""),
]

W, H = 2084, 3130
COL_X = [(235, 1029), (1281, 2073)]
ROW_TOP = 130
ROW_STEP = 600
PLOT_H = 325

fig = make_subplots(rows=5, cols=2)


def band(r, c, t, lo, hi, fill):
    fig.add_trace(go.Scatter(x=list(t) + list(t)[::-1], y=list(hi) + list(lo)[::-1], mode="lines",
                             fill="toself", fillcolor=fill, line=dict(width=0), hoverinfo="skip",
                             showlegend=False), row=r, col=c)


def curve(r, c, t, y, color, name=None, legend=None):
    fig.add_trace(go.Scatter(x=t, y=y, mode="lines",
                             line=dict(color=color, width=10, shape="spline", smoothing=0.5),
                             name=name, showlegend=legend is not None, legend=legend or "legend"),
                  row=r, col=c)


def dots(r, c, t, y, color, size=19, name=None, legend=None, err=None):
    kw = {}
    if err is not None:
        lo, hi = err
        kw["error_y"] = dict(type="data", symmetric=False,
                             array=[h - v for h, v in zip(hi, y)],
                             arrayminus=[v - l for l, v in zip(lo, y)],
                             color=color, thickness=8, width=0)
    fig.add_trace(go.Scatter(x=t, y=y, mode="markers", marker=dict(color=color, size=size, line=dict(width=0)),
                             name=name, showlegend=legend is not None, legend=legend or "legend", **kw),
                  row=r, col=c)


# Amoxicillin
band(1, 1, amox_pl_t, amox_pl_lo, amox_pl_hi, RED_BAND)
band(1, 1, amox_mk_t, amox_mk_lo, amox_mk_hi, BLUE_BAND)
curve(1, 1, amox_pl_t, amox_pl_med, RED, "Plasma", "legend")
curve(1, 1, amox_mk_t, amox_mk_med, BLUE, "Milk", "legend2")
dots(1, 1, amox_obs_pl_t, amox_obs_pl, RED, 20, err=(amox_obs_pl_lo, amox_obs_pl_hi))
dots(1, 1, amox_obs_mk_t, amox_obs_mk, BLUE, 20, err=(amox_obs_mk_lo, amox_obs_mk_hi))

# Nevirapine
band(1, 2, nevi_pl_t, nevi_pl_lo, nevi_pl_hi, RED_BAND)
band(1, 2, nevi_mk_t, nevi_mk_lo, nevi_mk_hi, BLUE_BAND)
curve(1, 2, nevi_pl_t, nevi_pl_med, RED)
curve(1, 2, nevi_mk_t, nevi_mk_med, BLUE)
dots(1, 2, nevi_obs_pl_t, nevi_obs_pl, RED_PT, 25)
dots(1, 2, nevi_obs_mk_t, nevi_obs_mk, BLUE_PT, 25)

# Caffeine
band(2, 1, caff_pl_t, caff_pl_lo, caff_pl_hi, RED_BAND)
band(2, 1, caff_mk_t, caff_mk_lo, caff_mk_hi, BLUE_BAND)
curve(2, 1, caff_pl_t, caff_pl_med, RED)
curve(2, 1, caff_mk_t, caff_mk_med, BLUE)
dots(2, 1, caff_obs_mk_t, caff_obs_mk, BLUE, 19)

# Sertraline
band(2, 2, sert_pl_t, sert_pl_lo, sert_pl_hi, RED_BAND)
band(2, 2, sert_mk_t, sert_mk_lo, sert_mk_hi, BLUE_BAND)
curve(2, 2, sert_pl_t, sert_pl_med, RED)
curve(2, 2, sert_mk_t, sert_mk_med, BLUE)
dots(2, 2, sert_obs_pl_t, sert_obs_pl, RED_PT, 19)
dots(2, 2, sert_obs_mk_t, sert_obs_mk, BLUE_PT, 19)

# Cetirizine
band(3, 1, ceti_pl_t, ceti_pl_lo, ceti_pl_hi, RED_BAND)
band(3, 1, ceti_mk_t, ceti_mk_lo, ceti_mk_hi, BLUE_BAND)
curve(3, 1, ceti_pl_t, ceti_pl_med, RED)
curve(3, 1, ceti_mk_t, ceti_mk_med, BLUE)
dots(3, 1, ceti_obs_mk_t, ceti_obs_mk, BLUE, 18)

# Tenofovir
band(3, 2, teno_pl_t, teno_pl_lo, teno_pl_hi, RED_BAND)
band(3, 2, teno_mk_t, teno_mk_lo, teno_mk_hi, BLUE_BAND)
curve(3, 2, teno_pl_t, teno_pl_med, RED)
curve(3, 2, teno_mk_t, teno_mk_med, BLUE)
dots(3, 2, teno_obs_pl_t, teno_obs_pl, RED_PT, 19)
dots(3, 2, teno_obs_mk_t, teno_obs_mk, BLUE_PT, 19)

# Levetiracetam
band(4, 1, leve_pl_t, leve_pl_lo, leve_pl_hi, RED_BAND)
band(4, 1, leve_mk_t, leve_mk_lo, leve_mk_hi, BLUE_BAND)
curve(4, 1, leve_pl_t, leve_pl_med, RED)
curve(4, 1, leve_mk_t, leve_mk_med, BLUE)
dots(4, 1, leve_obs_pl_t, leve_obs_pl, RED, 20, "Plasma", "legend3")
dots(4, 1, leve_obs_mk_t, leve_obs_mk, BLUE, 20, "Milk", "legend4")

# Valproic Acid
band(4, 2, valp_pl_t, valp_pl_lo, valp_pl_hi, RED_BAND)
band(4, 2, valp_mk_t, valp_mk_lo, valp_mk_hi, BLUE_BAND)
curve(4, 2, valp_pl_t, valp_pl_med, RED)
curve(4, 2, valp_mk_t, valp_mk_med, BLUE)
dots(4, 2, valp_obs_pl_t, valp_obs_pl, RED, 18)
dots(4, 2, valp_obs_mk_t, valp_obs_mk, BLUE, 18)

# Metformin
band(5, 1, metf_pl_t, metf_pl_lo, metf_pl_hi, RED_BAND)
band(5, 1, metf_mk_t, metf_mk_lo, metf_mk_hi, BLUE_BAND)
curve(5, 1, metf_pl_t, metf_pl_med, RED)
curve(5, 1, metf_mk_t, metf_mk_med, BLUE)
dots(5, 1, metf_obs_pl_t, metf_obs_pl, RED_PT, 19)
dots(5, 1, metf_obs_mk_t, metf_obs_mk, BLUE_PT, 19)

# Zidovudine
band(5, 2, zido_pl_t, zido_pl_lo, zido_pl_hi, RED_BAND)
band(5, 2, zido_mk_t, zido_mk_lo, zido_mk_hi, BLUE_BAND)
curve(5, 2, zido_pl_t, zido_pl_med, RED)
curve(5, 2, zido_mk_t, zido_mk_med, BLUE)
dots(5, 2, zido_obs_pl_t, zido_obs_pl, RED_PT, 19)
dots(5, 2, zido_obs_mk_t, zido_obs_mk, BLUE_PT, 19)

AX = dict(ticks="outside", ticklen=13, tickwidth=3, tickcolor="#333333",
          showline=True, mirror=True, linecolor="#333333", linewidth=2.5,
          showgrid=True, gridcolor="#EBEBEB", gridwidth=4, zeroline=False, automargin=False,
          ticklabeloverflow="allow",
          tickfont=dict(family=FONT, size=43, color="#4D4D4D"))

annotations = []
for i, p in enumerate(panels):
    r, c = divmod(i, 2)
    top = ROW_TOP + r * ROW_STEP
    bot = top + PLOT_H
    x0, x1 = COL_X[c]
    suffix = "" if i == 0 else str(i + 1)
    fig.layout["xaxis" + suffix].update(
        domain=[x0 / W, x1 / W], range=p["xr"], tickmode="array", tickvals=p["xt"],
        ticklabelstandoff=-21,
        minor=dict(tickmode="array", tickvals=p["xm"], showgrid=True, gridcolor="#EBEBEB", gridwidth=2.5, ticks=""),
        **AX)
    fig.layout["yaxis" + suffix].update(
        domain=[1 - bot / H, 1 - top / H], range=p["yr"], tickmode="array", tickvals=p["yt"],
        tickformat=p["yf"],
        minor=dict(tickmode="array", tickvals=p["ym"], showgrid=True, gridcolor="#EBEBEB", gridwidth=2.5, ticks=""),
        **AX)
    annotations.append(dict(text=p["title"], x=(x0 - 2) / W, y=1 - (top - 72) / H, xref="paper", yref="paper",
                            xanchor="left", yanchor="middle", showarrow=False,
                            font=dict(family=FONT, size=70, color="black")))
    annotations.append(dict(text="Time [h]", x=(x0 + x1) / 2 / W, y=1 - (bot + 93) / H, xref="paper", yref="paper",
                            xanchor="center", yanchor="middle", showarrow=False,
                            font=dict(family=FONT, size=57, color="black")))
    annotations.append(dict(text="Concentration [mg/L]", x=(40 if c == 0 else 1090) / W, y=1 - (top + bot) / 2 / H,
                            xref="paper", yref="paper", xanchor="center", yanchor="middle", textangle=-90,
                            showarrow=False, font=dict(family=FONT, size=57, color="black")))

# legend titles
for txt, xl in [("Predicted", 246), ("Observed", 1096)]:
    annotations.append(dict(text=txt, x=xl / W, y=1 - 3093 / H, xref="paper", yref="paper",
                            xanchor="left", yanchor="middle", showarrow=False,
                            font=dict(family=FONT, size=58, color="black")))


def leg(xpx):
    return dict(orientation="h", x=xpx / W, y=1 - 3090 / H, xanchor="left", yanchor="middle",
                itemwidth=70, font=dict(family=FONT, size=45, color="black"), bgcolor="rgba(0,0,0,0)")


fig.update_layout(
    width=W, height=H, margin=dict(l=0, r=0, t=0, b=0, autoexpand=False),
    paper_bgcolor="white", plot_bgcolor="white",
    font=dict(family=FONT, color="black"),
    annotations=annotations,
    shapes=[dict(type="rect", xref="paper", yref="paper", x0=1042 / W, x1=1051 / W, y0=1 - 12 / H, y1=1,
                 fillcolor="#2A9FD6", line=dict(width=0))],
    legend=leg(528), legend2=leg(812), legend3=leg(1380), legend4=leg(1668),
)

fig.write_html("out.html")
